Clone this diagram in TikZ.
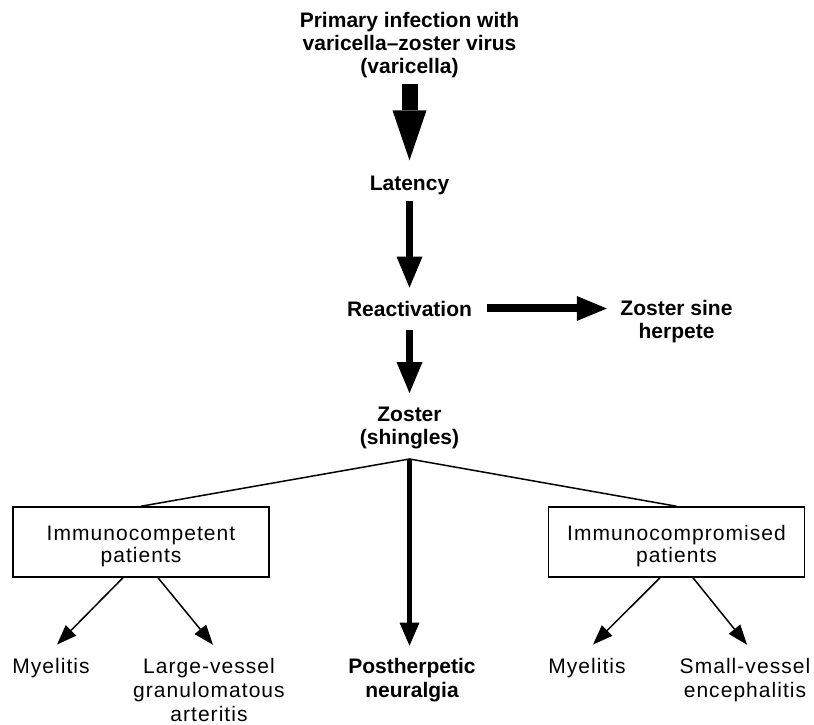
\documentclass[tikz,border=0pt]{standalone}
\usepackage{fontspec}
\setmainfont{Liberation Sans}
\newfontfamily\lrf[LetterSpace=5]{Liberation Sans}
\newfontfamily\lbf{Liberation Sans}
\usetikzlibrary{arrows.meta,calc}
\begin{document}
\begin{tikzpicture}[x=1pt,y=-1pt,
  boldlbl/.style={font=\fontsize{21}{23}\selectfont\lbf\bfseries, align=center, inner sep=0pt},
  botlbl/.style={font=\fontsize{21}{24}\selectfont\lrf, align=center, inner sep=0pt},
  botbold/.style={font=\fontsize{21}{24}\selectfont\lbf\bfseries, align=center, inner sep=0pt},
  groupbox/.style={draw, line width=1.5pt, minimum width=256pt, minimum height=70pt,
     inner sep=0pt, font=\fontsize{21}{22}\selectfont\lrf, align=center},
  bigarrow/.style={line width=16pt, -{Triangle[length=50pt,width=34pt,line width=0pt]}},
  midarrow/.style={line width=7pt, -{Triangle[length=31pt,width=26pt,line width=0pt]}},
  hzarrow/.style={line width=8pt, -{Triangle[length=30pt,width=25pt,line width=0pt]}},
  ctrarrow/.style={line width=5pt, -{Triangle[length=23pt,width=20pt,line width=0pt]}},
  thinarrow/.style={line width=1.5pt, -{Triangle[length=20pt,width=15pt,line width=0pt]}},
  thinline/.style={line width=1.5pt}
]
\fill[white] (0,0) rectangle (814,725);
\useasboundingbox (0,0) rectangle (814,725);

% top chain
\node[boldlbl] (primary) at (409.5,44.7) {Primary infection with\\varicella–zoster virus\\(varicella)};
\node[boldlbl, anchor=base] (latency) at (409.5,190) {Latency};
\node[boldlbl, anchor=base] (react) at (409.5,316) {Reactivation};
\node[boldlbl] (zsh) at (676.5,321.2) {Zoster sine\\herpete};
\node[boldlbl] (zoster) at (409.5,428.2) {Zoster\\(shingles)};

\draw[bigarrow, shorten <=6.6pt, shorten >=15pt] (primary.south) -- (latency.north);
\draw[midarrow, shorten <=6.6pt, shorten >=13pt] (latency.south) -- (react.north);
\draw[midarrow, shorten <=14pt, shorten >=14pt] (react.south) -- (zoster.north);
\draw[hzarrow, shorten <=15pt, shorten >=13.5pt] (react.east) -- (react.east -| zsh.west);

% fork
\coordinate (fork) at (409.5,459);
\node[groupbox] (lbox) at (141,542) {\rule{0pt}{22.4pt}Immunocompetent\\patients};
\node[groupbox] (rbox) at (676.5,542) {\rule{0pt}{22.4pt}Immunocompromised\\patients};
\draw[thinline] (lbox.north) -- (fork) -- (rbox.north);

% bottom labels
\node[botlbl, anchor=base] (my1) at (51,673) {Myelitis};
\node[botlbl] (lv) at (209,689.7) {Large-vessel\\granulomatous\\arteritis};
\node[botbold] (pn) at (412,679.7) {Postherpetic\\neuralgia};
\node[botlbl, anchor=base] (my2) at (587,673) {Myelitis};
\node[botlbl] (sv) at (745,679.7) {Small-vessel\\encephalitis};

\draw[ctrarrow, shorten >=12pt] (fork) -- (fork |- pn.north);
\draw[thinarrow] ($(lbox.south)+(-18,0)$) -- ($(my1.north)+(6,-13)$);
\draw[thinarrow] ($(lbox.south)+(17,0)$) -- ($(lv.north)+(4,-13)$);
\draw[thinarrow] ($(rbox.south)+(-16.5,0)$) -- ($(my2.north)+(6,-13)$);
\draw[thinarrow] ($(rbox.south)+(16.5,0)$) -- ($(sv.north)+(2,-13)$);
\end{tikzpicture}
\end{document}
